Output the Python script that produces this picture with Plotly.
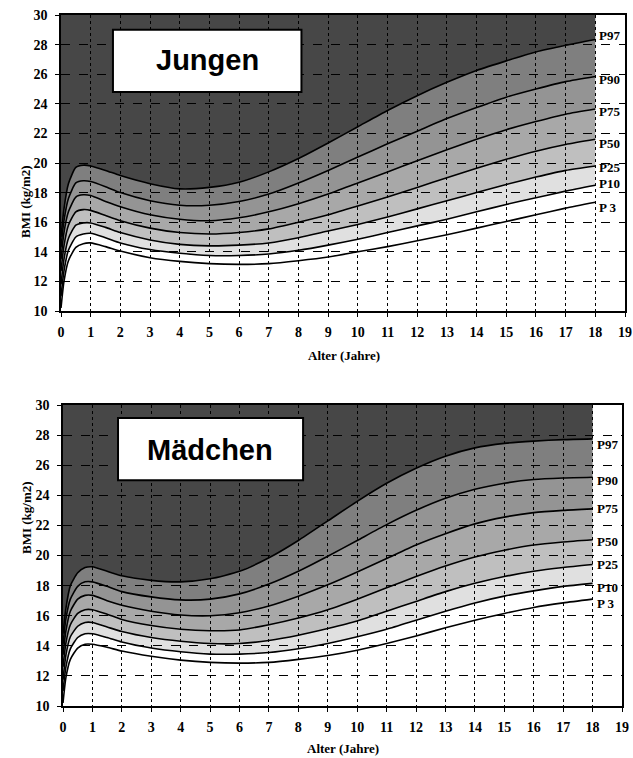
import plotly.graph_objects as go

# ---------------- data ----------------
ages = [0, 0.1, 0.25, 0.5, 0.75, 1, 1.5, 2, 3, 4, 5, 6, 7, 8, 9, 10, 11, 12, 13, 14, 15, 16, 17, 18]

boys_p3  = [10.2, 12.0, 13.4, 14.3, 14.55, 14.6, 14.35, 14.05, 13.6, 13.35, 13.2, 13.15, 13.2, 13.4, 13.65, 14.0, 14.35, 14.75, 15.15, 15.6, 16.05, 16.5, 16.95, 17.35]
boys_p10 = [11.0, 12.7, 14.1, 15.0, 15.2, 15.25, 14.95, 14.6, 14.15, 13.9, 13.75, 13.75, 13.85, 14.1, 14.45, 14.85, 15.3, 15.75, 16.2, 16.7, 17.2, 17.65, 18.1, 18.5]
boys_p25 = [11.8, 13.5, 14.9, 15.8, 15.95, 15.95, 15.65, 15.3, 14.8, 14.5, 14.4, 14.45, 14.6, 14.95, 15.4, 15.85, 16.35, 16.9, 17.45, 18.0, 18.55, 19.05, 19.5, 19.8]
boys_p50 = [12.7, 14.4, 15.8, 16.7, 16.85, 16.8, 16.45, 16.1, 15.6, 15.3, 15.2, 15.3, 15.55, 16.0, 16.5, 17.1, 17.7, 18.35, 19.0, 19.65, 20.25, 20.8, 21.25, 21.6]
boys_p75 = [13.5, 15.3, 16.7, 17.7, 17.85, 17.8, 17.4, 17.05, 16.5, 16.2, 16.1, 16.3, 16.7, 17.25, 17.9, 18.65, 19.4, 20.15, 20.9, 21.6, 22.25, 22.8, 23.3, 23.65]
boys_p90 = [14.3, 16.1, 17.6, 18.65, 18.8, 18.75, 18.4, 18.0, 17.45, 17.15, 17.15, 17.4, 17.9, 18.65, 19.5, 20.4, 21.3, 22.15, 23.0, 23.75, 24.45, 25.0, 25.5, 25.85]
boys_p97 = [15.0, 16.9, 18.6, 19.7, 19.85, 19.8, 19.5, 19.15, 18.6, 18.25, 18.35, 18.7, 19.4, 20.3, 21.35, 22.45, 23.55, 24.55, 25.45, 26.25, 26.9, 27.5, 27.95, 28.35]

girls_p3  = [10.2, 11.9, 13.1, 13.85, 14.1, 14.1, 13.9, 13.65, 13.3, 13.05, 12.9, 12.85, 12.9, 13.1, 13.35, 13.7, 14.15, 14.65, 15.2, 15.7, 16.15, 16.55, 16.85, 17.1]
girls_p10 = [11.0, 12.6, 13.8, 14.55, 14.8, 14.8, 14.55, 14.25, 13.85, 13.6, 13.45, 13.45, 13.55, 13.8, 14.15, 14.6, 15.1, 15.7, 16.3, 16.85, 17.3, 17.65, 17.95, 18.15]
girls_p25 = [11.75, 13.4, 14.6, 15.3, 15.55, 15.55, 15.25, 14.95, 14.55, 14.3, 14.15, 14.15, 14.35, 14.7, 15.15, 15.65, 16.3, 16.95, 17.6, 18.15, 18.6, 18.95, 19.2, 19.4]
girls_p50 = [12.6, 14.2, 15.4, 16.15, 16.4, 16.4, 16.1, 15.75, 15.35, 15.1, 15.0, 15.05, 15.4, 15.85, 16.4, 17.1, 17.85, 18.6, 19.3, 19.9, 20.35, 20.7, 20.9, 21.05]
girls_p75 = [13.4, 15.0, 16.3, 17.1, 17.35, 17.35, 17.0, 16.7, 16.3, 16.05, 16.0, 16.2, 16.65, 17.3, 18.05, 18.9, 19.8, 20.7, 21.45, 22.1, 22.55, 22.85, 23.0, 23.1]
girls_p90 = [14.1, 15.8, 17.1, 17.95, 18.25, 18.25, 17.95, 17.6, 17.25, 17.05, 17.1, 17.45, 18.1, 18.95, 19.95, 21.0, 22.05, 23.0, 23.8, 24.4, 24.8, 25.05, 25.15, 25.2]
girls_p97 = [14.8, 16.5, 18.0, 18.85, 19.2, 19.25, 18.95, 18.65, 18.35, 18.25, 18.45, 18.95, 19.85, 21.0, 22.3, 23.6, 24.8, 25.8, 26.6, 27.15, 27.45, 27.6, 27.7, 27.75]

percentile_labels = ["P 3", "P10", "P25", "P50", "P75", "P90", "P97"]
x_ticks = list(range(0, 20))
y_ticks = list(range(10, 31, 2))
Y_MIN, Y_MAX = 10, 30
X_MIN, X_MAX = 0, 19

boys = [boys_p3, boys_p10, boys_p25, boys_p50, boys_p75, boys_p90, boys_p97]
girls = [girls_p3, girls_p10, girls_p25, girls_p50, girls_p75, girls_p90, girls_p97]

# band fill under each curve (between it and the previous one)
band_fill = [None, None, "rgba(0,0,0,0.12)", "rgba(0,0,0,0.25)", "rgba(0,0,0,0.34)",
             "rgba(0,0,0,0.42)", "rgba(0,0,0,0.50)"]
top_fill = "rgba(0,0,0,0.72)"

W, H = 633, 758

def px(x):
    return x / W

def py(y):
    return 1 - y / H

fig = go.Figure()

SERIF = "Liberation Serif, Times New Roman, serif"
SANS = "Liberation Sans, Arial, sans-serif"

def add_panel(series, xa, ya, label_shifts):
    for i, ys in enumerate(series):
        kw = {}
        if band_fill[i] is not None:
            kw = dict(fill="tonexty", fillcolor=band_fill[i])
        fig.add_trace(go.Scatter(
            x=ages, y=ys, mode="lines", xaxis=xa, yaxis=ya,
            line=dict(color="black", width=1.6, shape="spline", smoothing=0.6),
            showlegend=False, hoverinfo="skip", **kw))
    fig.add_trace(go.Scatter(
        x=ages, y=[Y_MAX] * len(ages), mode="lines", xaxis=xa, yaxis=ya,
        line=dict(color="rgba(0,0,0,0)", width=0), fill="tonexty", fillcolor=top_fill,
        showlegend=False, hoverinfo="skip"))
    for lab, ys, sh in zip(percentile_labels, series, label_shifts):
        fig.add_annotation(x=ages[-1], y=ys[-1], xref=xa, yref=ya, text=lab,
                           showarrow=False, xanchor="left", yanchor="middle",
                           xshift=2, yshift=sh,
                           font=dict(family=SERIF, size=13, color="black", weight="bold"))

add_panel(boys, "x", "y", [-5, 2, -2, -4, -3, -3, 4])
add_panel(girls, "x2", "y2", [-4, -4, 0, -2, 0, -3, -6])

axis_common = dict(
    showline=True, linecolor="black", linewidth=1.5, mirror=True,
    ticks="outside", ticklen=4, tickcolor="black", zeroline=False,
    showgrid=True, gridcolor="black", gridwidth=1, automargin=False,
    ticklabeloverflow="allow",
    tickfont=dict(family=SERIF, size=14, color="black", weight="bold"),
)

def xaxis(domain, anchor):
    d = dict(axis_common)
    d.update(range=[X_MIN, X_MAX], tickvals=x_ticks, griddash="dot", domain=domain,
             anchor=anchor, ticklabelstandoff=3)
    return d

def yaxis(domain, anchor):
    d = dict(axis_common)
    d.update(range=[Y_MIN, Y_MAX], tickvals=y_ticks, griddash="dash", domain=domain,
             anchor=anchor, ticklabelstandoff=5)
    return d

top_x = [px(61), px(625)]
top_y = [py(311), py(15)]
bot_x = [px(63), px(622)]
bot_y = [py(706), py(405)]

fig.update_layout(
    template="none",
    width=W, height=H,
    margin=dict(l=0, r=0, t=0, b=0),
    paper_bgcolor="white", plot_bgcolor="white",
    xaxis=xaxis(top_x, "y"), yaxis=yaxis(top_y, "x"),
    xaxis2=xaxis(bot_x, "y2"), yaxis2=yaxis(bot_y, "x2"),
)

# title boxes
fig.add_shape(type="rect", xref="x", yref="y", x0=1.75, x1=8.1, y0=24.8, y1=29.0,
              fillcolor="white", line=dict(color="black", width=2), layer="above")
fig.add_annotation(xref="x", yref="y", x=4.93, y=26.95, text="Jungen", showarrow=False,
                   font=dict(family=SANS, size=29, color="black", weight="bold"))
fig.add_shape(type="rect", xref="x2", yref="y2", x0=1.87, x1=8.16, y0=25.0, y1=29.14,
              fillcolor="white", line=dict(color="black", width=2), layer="above")
fig.add_annotation(xref="x2", yref="y2", x=5.0, y=27.0, text="Mädchen", showarrow=False,
                   font=dict(family=SANS, size=29, color="black", weight="bold"))

# axis titles
title_font = dict(family=SERIF, size=13, color="black", weight="bold")
for xc, yc in [(16, 163), (17, 556)]:
    fig.add_annotation(xref="paper", yref="paper", x=px(xc), y=py(yc), text="BMI (kg/m2)",
                       textangle=-90, showarrow=False, font=title_font)
fig.add_annotation(xref="paper", yref="paper", x=px(344), y=py(355), text="Alter (Jahre)",
                   showarrow=False, font=title_font)
fig.add_annotation(xref="paper", yref="paper", x=px(343), y=0, yanchor="bottom",
                   text="Alter (Jahre)", showarrow=False, font=title_font)

fig.write_html(
    "out.html",
    config={"displayModeBar": False},
    post_script="document.body.style.margin='0';document.documentElement.style.overflow='hidden';",
)
